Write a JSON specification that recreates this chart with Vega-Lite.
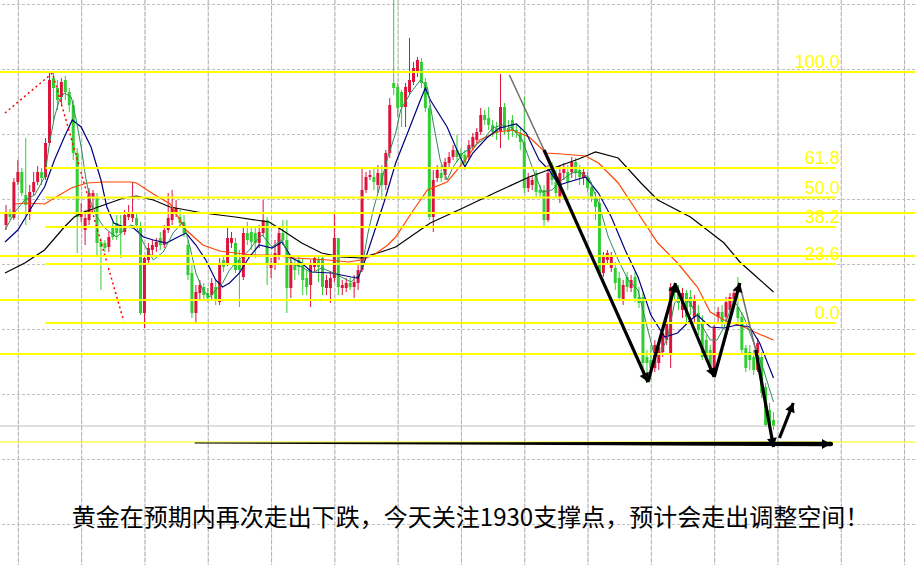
{
"$schema":"https://vega.github.io/schema/vega-lite/v6.json",
"width":915,"height":565,"padding":0,"autosize":{"type":"none"},
"background":"white",
"config":{"view":{"stroke":null},"title":{"font":"Noto Sans CJK SC"}},
"title":{"text":"黄金在预期内再次走出下跌，今天关注1930支撑点，预计会走出调整空间！","orient":"bottom","offset":-59,"dx":13,"anchor":"middle","font":"Noto Sans CJK SC","fontSize":24,"fontWeight":400,"color":"#000000"},
"datasets":{
"gxr":[{"i":3.125,"top":2152,"bot":1869.5},{"i":19.125,"top":2152,"bot":1869.5},{"i":35.125,"top":2152,"bot":1869.5},{"i":51.125,"top":2152,"bot":1869.5},{"i":67.125,"top":2152,"bot":1869.5},{"i":83.125,"top":2152,"bot":1869.5},{"i":99.125,"top":2152,"bot":1869.5},{"i":115.125,"top":2152,"bot":1869.5},{"i":131.125,"top":2152,"bot":1869.5},{"i":147.125,"top":2152,"bot":1869.5},{"i":163.125,"top":2152,"bot":1869.5},{"i":179.125,"top":2152,"bot":1869.5},{"i":195.125,"top":2152,"bot":1869.5},{"i":211.125,"top":2152,"bot":1869.5},{"i":227.125,"top":2152,"bot":1869.5}],
"gy":[{"p":2149.75},{"p":2117.25},{"p":2084.75},{"p":2052.25},{"p":2019.75},{"p":1987.25},{"p":1954.75},{"p":1922.25},{"p":1889.75}],
"candles":[
{"i":0,"o":2039.5,"h":2049.5,"l":2037,"c":2046},
{"i":1,"o":2046,"h":2047.5,"l":2042,"c":2043.5},
{"i":2,"o":2043,"h":2063,"l":2042,"c":2061},
{"i":3,"o":2061,"h":2072,"l":2059.5,"c":2066},
{"i":4,"o":2066,"h":2068,"l":2054,"c":2055.5},
{"i":5,"o":2054.5,"h":2083,"l":2039.5,"c":2049.5},
{"i":6,"o":2046,"h":2059.5,"l":2042,"c":2056},
{"i":7,"o":2056,"h":2066,"l":2054.5,"c":2061},
{"i":8,"o":2061,"h":2069,"l":2059.5,"c":2066},
{"i":9,"o":2066,"h":2068,"l":2059.5,"c":2063},
{"i":10,"o":2063.5,"h":2083,"l":2062,"c":2080.5},
{"i":11,"o":2080.5,"h":2115.5,"l":2079.5,"c":2112},
{"i":12,"o":2113,"h":2115.5,"l":2091,"c":2108},
{"i":13,"o":2108,"h":2112,"l":2097,"c":2102},
{"i":14,"o":2103.5,"h":2113,"l":2099.5,"c":2111},
{"i":15,"o":2112,"h":2114,"l":2102,"c":2106},
{"i":16,"o":2106,"h":2108,"l":2096,"c":2099.5},
{"i":17,"o":2099.5,"h":2102,"l":2072,"c":2075.5},
{"i":18,"o":2075.5,"h":2078,"l":2025.5,"c":2043.5},
{"i":19,"o":2043.5,"h":2050.5,"l":2041,"c":2046},
{"i":20,"o":2037,"h":2047,"l":2029.5,"c":2043},
{"i":21,"o":2042,"h":2058,"l":2039.5,"c":2055.5},
{"i":22,"o":2053.5,"h":2057,"l":2047,"c":2055.5},
{"i":23,"o":2053.5,"h":2055.5,"l":2023.5,"c":2030.5},
{"i":24,"o":2031,"h":2033,"l":2007,"c":2028.5},
{"i":25,"o":2030.5,"h":2032,"l":2026,"c":2028},
{"i":26,"o":2028.5,"h":2036,"l":2026,"c":2033.5},
{"i":27,"o":2038.5,"h":2041,"l":2032,"c":2033.5},
{"i":28,"o":2040.5,"h":2044.5,"l":2032,"c":2035.5},
{"i":29,"o":2039.5,"h":2044.5,"l":2023,"c":2035.5},
{"i":30,"o":2036,"h":2047,"l":2034.5,"c":2044.5},
{"i":31,"o":2043.5,"h":2049.5,"l":2042,"c":2045.5},
{"i":32,"o":2043,"h":2061,"l":2041,"c":2045.5},
{"i":33,"o":2043,"h":2045.5,"l":2038,"c":2039.5},
{"i":34,"o":2038.5,"h":2041,"l":1994.5,"c":1995.5},
{"i":35,"o":1995.5,"h":2024.5,"l":1988,"c":2023},
{"i":36,"o":2022,"h":2030.5,"l":2019.5,"c":2028},
{"i":37,"o":2027,"h":2032,"l":2024.5,"c":2029.5},
{"i":38,"o":2028.5,"h":2033,"l":2026,"c":2031},
{"i":39,"o":2033,"h":2036,"l":2027,"c":2029.5},
{"i":40,"o":2029.5,"h":2039.5,"l":2028,"c":2037},
{"i":41,"o":2037,"h":2055.5,"l":2035.5,"c":2043},
{"i":42,"o":2042,"h":2057,"l":2039.5,"c":2048},
{"i":43,"o":2045.5,"h":2052,"l":2043.5,"c":2048},
{"i":44,"o":2043.5,"h":2047,"l":2038,"c":2040.5},
{"i":45,"o":2041,"h":2044.5,"l":2033.5,"c":2035.5},
{"i":46,"o":2029.5,"h":2032,"l":2012,"c":2014.5},
{"i":47,"o":2015.5,"h":2019.5,"l":1993,"c":1995.5},
{"i":48,"o":1995.5,"h":2009.5,"l":1991,"c":2006},
{"i":49,"o":2005.5,"h":2012,"l":2002,"c":2009.5},
{"i":50,"o":2008.5,"h":2010.5,"l":2002,"c":2004.5},
{"i":51,"o":2005.5,"h":2008,"l":2001,"c":2003},
{"i":52,"o":2004.5,"h":2013,"l":2002,"c":2010.5},
{"i":53,"o":2008.5,"h":2012,"l":1999.5,"c":2002},
{"i":54,"o":2001,"h":2023,"l":1999.5,"c":2020.5},
{"i":55,"o":2022,"h":2024.5,"l":2016,"c":2018.5},
{"i":56,"o":2020.5,"h":2038.5,"l":2019,"c":2033},
{"i":57,"o":2030.5,"h":2036,"l":2028,"c":2033},
{"i":58,"o":2030.5,"h":2033,"l":2015.5,"c":2017},
{"i":59,"o":2022,"h":2027,"l":1998.5,"c":2017},
{"i":60,"o":2013.5,"h":2038,"l":2012,"c":2035.5},
{"i":61,"o":2035.5,"h":2041,"l":2029.5,"c":2032},
{"i":62,"o":2036,"h":2038,"l":2027,"c":2031},
{"i":63,"o":2035.5,"h":2038,"l":2023,"c":2030.5},
{"i":64,"o":2030.5,"h":2039.5,"l":2028,"c":2036},
{"i":65,"o":2035.5,"h":2052,"l":2034,"c":2042},
{"i":66,"o":2042,"h":2043.5,"l":2009.5,"c":2020.5},
{"i":67,"o":2018,"h":2023,"l":2013,"c":2020.5},
{"i":68,"o":2020.5,"h":2032,"l":2017,"c":2025.5},
{"i":69,"o":2024.5,"h":2038,"l":2022,"c":2035.5},
{"i":70,"o":2035.5,"h":2042,"l":2029.5,"c":2032},
{"i":71,"o":2032,"h":2042,"l":1995.5,"c":2008},
{"i":72,"o":2008,"h":2023,"l":2003,"c":2020.5},
{"i":73,"o":2019.5,"h":2023,"l":2012,"c":2017},
{"i":74,"o":2022,"h":2024.5,"l":2014.5,"c":2018.5},
{"i":75,"o":2019.5,"h":2023,"l":2004.5,"c":2012},
{"i":76,"o":2013,"h":2017,"l":2004.5,"c":2008.5},
{"i":77,"o":2009.5,"h":2022,"l":1998.5,"c":2020.5},
{"i":78,"o":2018.5,"h":2024.5,"l":2016,"c":2023},
{"i":79,"o":2022,"h":2024.5,"l":2011,"c":2018.5},
{"i":80,"o":2023,"h":2024.5,"l":2004.5,"c":2008.5},
{"i":81,"o":2008,"h":2014.5,"l":2004.5,"c":2012},
{"i":82,"o":2008,"h":2016,"l":2000.5,"c":2013},
{"i":83,"o":2013,"h":2046,"l":2011,"c":2033},
{"i":84,"o":2033,"h":2033,"l":2004.5,"c":2008.5},
{"i":85,"o":2008,"h":2012,"l":2004.5,"c":2009.5},
{"i":86,"o":2008,"h":2013,"l":2006,"c":2010.5},
{"i":87,"o":2010.5,"h":2013,"l":2007,"c":2008.5},
{"i":88,"o":2008.5,"h":2014.5,"l":2003,"c":2011},
{"i":89,"o":2010.5,"h":2019.5,"l":2007,"c":2017},
{"i":90,"o":2017,"h":2068.5,"l":2016,"c":2057},
{"i":91,"o":2057,"h":2066,"l":2055.5,"c":2063.5},
{"i":92,"o":2063.5,"h":2067,"l":2062,"c":2064.5},
{"i":93,"o":2063.5,"h":2068.5,"l":2057,"c":2061},
{"i":94,"o":2059.5,"h":2069.5,"l":2055.5,"c":2065.5},
{"i":95,"o":2065.5,"h":2069.5,"l":2052,"c":2059.5},
{"i":96,"o":2059.5,"h":2077,"l":2057,"c":2075.5},
{"i":97,"o":2075.5,"h":2103,"l":2073,"c":2099.5},
{"i":98,"o":2110.5,"h":2152,"l":2104.5,"c":2108},
{"i":99,"o":2108.5,"h":2110.5,"l":2093.5,"c":2098},
{"i":100,"o":2106,"h":2107,"l":2088.5,"c":2098.5},
{"i":101,"o":2098.5,"h":2110.5,"l":2088.5,"c":2108.5},
{"i":102,"o":2106,"h":2133,"l":2104.5,"c":2112},
{"i":103,"o":2111,"h":2121,"l":2109.5,"c":2118},
{"i":104,"o":2116,"h":2123.5,"l":2113.5,"c":2122},
{"i":105,"o":2121,"h":2123,"l":2108,"c":2110.5},
{"i":106,"o":2111,"h":2113,"l":2096,"c":2098},
{"i":107,"o":2098,"h":2099.5,"l":2042,"c":2043.5},
{"i":108,"o":2043.5,"h":2067,"l":2036,"c":2062},
{"i":109,"o":2063,"h":2069.5,"l":2061,"c":2067},
{"i":110,"o":2065.5,"h":2069.5,"l":2061,"c":2063},
{"i":111,"o":2064.5,"h":2073,"l":2062,"c":2071},
{"i":112,"o":2070.5,"h":2076,"l":2068,"c":2073.5},
{"i":113,"o":2073.5,"h":2079.5,"l":2072,"c":2077},
{"i":114,"o":2077,"h":2084.5,"l":2071,"c":2073.5},
{"i":115,"o":2075.5,"h":2078,"l":2069.5,"c":2073},
{"i":116,"o":2074.5,"h":2077,"l":2067,"c":2070.5},
{"i":117,"o":2073.5,"h":2082,"l":2072,"c":2079.5},
{"i":118,"o":2078.5,"h":2085.5,"l":2077,"c":2083.5},
{"i":119,"o":2082,"h":2088,"l":2080.5,"c":2086},
{"i":120,"o":2086,"h":2098,"l":2084.5,"c":2094.5},
{"i":121,"o":2094.5,"h":2097,"l":2089.5,"c":2092},
{"i":122,"o":2093,"h":2098.5,"l":2087,"c":2089.5},
{"i":123,"o":2089.5,"h":2092,"l":2083.5,"c":2086},
{"i":124,"o":2088,"h":2091,"l":2082,"c":2085.5},
{"i":125,"o":2086,"h":2115,"l":2078,"c":2098.5},
{"i":126,"o":2098.5,"h":2100.5,"l":2084.5,"c":2087},
{"i":127,"o":2088,"h":2092,"l":2082,"c":2086},
{"i":128,"o":2092,"h":2094.5,"l":2083.5,"c":2087},
{"i":129,"o":2087,"h":2089.5,"l":2083,"c":2085.5},
{"i":130,"o":2085.5,"h":2088,"l":2077,"c":2081},
{"i":131,"o":2081,"h":2103.5,"l":2055.5,"c":2058},
{"i":132,"o":2058,"h":2065.5,"l":2056,"c":2063},
{"i":133,"o":2059.5,"h":2064.5,"l":2057,"c":2062},
{"i":134,"o":2065.5,"h":2067,"l":2053,"c":2056},
{"i":135,"o":2057,"h":2059.5,"l":2053.5,"c":2055.5},
{"i":136,"o":2057,"h":2059.5,"l":2038.5,"c":2042},
{"i":137,"o":2042,"h":2069.5,"l":2041,"c":2065.5},
{"i":138,"o":2069.5,"h":2071,"l":2059.5,"c":2062},
{"i":139,"o":2061,"h":2067,"l":2053.5,"c":2055.5},
{"i":140,"o":2053,"h":2069.5,"l":2050.5,"c":2065.5},
{"i":141,"o":2065.5,"h":2070.5,"l":2062,"c":2068},
{"i":142,"o":2066,"h":2069.5,"l":2057,"c":2061},
{"i":143,"o":2066,"h":2073.5,"l":2063,"c":2071},
{"i":144,"o":2071,"h":2073,"l":2062,"c":2065.5},
{"i":145,"o":2067,"h":2069.5,"l":2059.5,"c":2063.5},
{"i":146,"o":2063,"h":2068.5,"l":2059.5,"c":2066},
{"i":147,"o":2063.5,"h":2066,"l":2056,"c":2058},
{"i":148,"o":2058.5,"h":2061,"l":2051,"c":2053.5},
{"i":149,"o":2053.5,"h":2056,"l":2042,"c":2048.5},
{"i":150,"o":2050.5,"h":2053,"l":2014.5,"c":2015.5},
{"i":151,"o":2015.5,"h":2026,"l":2013.5,"c":2023.5},
{"i":152,"o":2022,"h":2027,"l":2019.5,"c":2025.5},
{"i":153,"o":2018,"h":2026,"l":2016,"c":2024.5},
{"i":154,"o":2018,"h":2021,"l":2007,"c":2010.5},
{"i":155,"o":2013,"h":2016,"l":2002,"c":2003},
{"i":156,"o":2002,"h":2012,"l":1999.5,"c":2009.5},
{"i":157,"o":2013.5,"h":2016,"l":2006,"c":2008.5},
{"i":158,"o":2008,"h":2014.5,"l":2006,"c":2012},
{"i":159,"o":2013.5,"h":2016,"l":2001,"c":2003},
{"i":160,"o":2003.5,"h":2008.5,"l":1998,"c":2000.5},
{"i":161,"o":2003.5,"h":2005.5,"l":1968,"c":1970.5},
{"i":162,"o":1973.5,"h":1977,"l":1960.5,"c":1970.5},
{"i":163,"o":1972,"h":1979.5,"l":1962,"c":1968},
{"i":164,"o":1968,"h":1982,"l":1966,"c":1979.5},
{"i":165,"o":1970.5,"h":1981,"l":1967,"c":1978.5},
{"i":166,"o":1976,"h":1989.5,"l":1973.5,"c":1985.5},
{"i":167,"o":1982,"h":1993,"l":1979.5,"c":1990.5},
{"i":168,"o":1975.5,"h":2010.5,"l":1968,"c":2008.5},
{"i":169,"o":2009.5,"h":2010.5,"l":2002,"c":2005.5},
{"i":170,"o":2007,"h":2009.5,"l":1997,"c":2000.5},
{"i":171,"o":1997,"h":2008,"l":1993,"c":2005.5},
{"i":172,"o":2005.5,"h":2007,"l":1991,"c":1993.5},
{"i":173,"o":2003.5,"h":2007,"l":1994.5,"c":1998.5},
{"i":174,"o":1993.5,"h":2004.5,"l":1991,"c":2002},
{"i":175,"o":1995.5,"h":1999.5,"l":1984.5,"c":1987},
{"i":176,"o":1991,"h":1994.5,"l":1972,"c":1973.5},
{"i":177,"o":1982,"h":1984.5,"l":1971,"c":1973.5},
{"i":178,"o":1977,"h":1979.5,"l":1966,"c":1968.5},
{"i":179,"o":1967,"h":1989.5,"l":1966,"c":1988},
{"i":180,"o":1993.5,"h":1998.5,"l":1991,"c":1996},
{"i":181,"o":1996,"h":1999.5,"l":1988,"c":1990.5},
{"i":182,"o":1993.5,"h":2003.5,"l":1991,"c":2001},
{"i":183,"o":1997,"h":2005.5,"l":1995.5,"c":2003.5},
{"i":184,"o":2001,"h":2007,"l":1998.5,"c":2005.5},
{"i":185,"o":1998.5,"h":2013.5,"l":1991,"c":1993},
{"i":186,"o":1993.5,"h":1996,"l":1974.5,"c":1977},
{"i":187,"o":1978,"h":1979.5,"l":1966,"c":1968},
{"i":188,"o":1976,"h":1979.5,"l":1967,"c":1972},
{"i":189,"o":1973.5,"h":1977,"l":1964.5,"c":1967},
{"i":190,"o":1967,"h":1983,"l":1966,"c":1980.5},
{"i":191,"o":1973.5,"h":1976,"l":1953,"c":1955.5},
{"i":192,"o":1958.5,"h":1960.5,"l":1938.5,"c":1939.5},
{"i":193,"o":1947,"h":1950.5,"l":1937,"c":1938.5},
{"i":194,"o":1942,"h":1946,"l":1937,"c":1939}
],
"ma5":[{"i":-0.25,"p":2037},{"i":2.25,"p":2046},{"i":4.75,"p":2052},{"i":7.25,"p":2054.5},{"i":9.75,"p":2063.5},{"i":11,"p":2080.5},{"i":12.25,"p":2093.5},{"i":13.5,"p":2102},{"i":14.75,"p":2105.5},{"i":16.5,"p":2103.5},{"i":17.75,"p":2092},{"i":19,"p":2078.5},{"i":20.25,"p":2062},{"i":21.5,"p":2050.5},{"i":23,"p":2043.5},{"i":24.75,"p":2038.5},{"i":26.5,"p":2035.5},{"i":28,"p":2033.5},{"i":29.75,"p":2037},{"i":31.5,"p":2039.5},{"i":33,"p":2038.5},{"i":34.75,"p":2030.5},{"i":37.25,"p":2022},{"i":39.75,"p":2026},{"i":42.25,"p":2035.5},{"i":44.75,"p":2041},{"i":46.5,"p":2028.5},{"i":48,"p":2015.5},{"i":49.75,"p":2007},{"i":51.5,"p":2003.5},{"i":53,"p":2007},{"i":54.75,"p":2010.5},{"i":56.5,"p":2017},{"i":58,"p":2020.5},{"i":59.75,"p":2023.5},{"i":61.5,"p":2027},{"i":63,"p":2031},{"i":64.75,"p":2034.5},{"i":67.25,"p":2028.5},{"i":69.75,"p":2032},{"i":72.25,"p":2020.5},{"i":74.75,"p":2018.5},{"i":77.25,"p":2015.5},{"i":79.75,"p":2018},{"i":82.25,"p":2016},{"i":84.75,"p":2013.5},{"i":87.25,"p":2011},{"i":89.75,"p":2016},{"i":91.5,"p":2035.5},{"i":93,"p":2048.5},{"i":94.75,"p":2060.5},{"i":96.5,"p":2073.5},{"i":98.5,"p":2085.5},{"i":99.75,"p":2097},{"i":102.25,"p":2105.5},{"i":104.75,"p":2112},{"i":106.5,"p":2108.5},{"i":108,"p":2090.5},{"i":109.75,"p":2072},{"i":111.5,"p":2062},{"i":113,"p":2068.5},{"i":115.5,"p":2075.5},{"i":118,"p":2078.5},{"i":120.5,"p":2082},{"i":123,"p":2088},{"i":125.5,"p":2089.5},{"i":128,"p":2088},{"i":130.5,"p":2082},{"i":133,"p":2068.5},{"i":135.5,"p":2056},{"i":138,"p":2057},{"i":140.5,"p":2062},{"i":143,"p":2065.5},{"i":144.75,"p":2066},{"i":147.25,"p":2063.5},{"i":149.75,"p":2050.5},{"i":152.25,"p":2033.5},{"i":154.75,"p":2022},{"i":157.25,"p":2012},{"i":159.75,"p":2007},{"i":162.25,"p":1987},{"i":164,"p":1973.5},{"i":165.5,"p":1975.5},{"i":167.25,"p":1983.5},{"i":169,"p":2000.5},{"i":170.5,"p":2003.5},{"i":173,"p":2000.5},{"i":175.5,"p":1990.5},{"i":178,"p":1982},{"i":179.75,"p":1982},{"i":181.5,"p":1988.5},{"i":184,"p":2002},{"i":186.5,"p":1993.5},{"i":189,"p":1980.5},{"i":191.5,"p":1967},{"i":194,"p":1951}],
"ma10":[{"i":-0.25,"p":2031},{"i":3,"p":2037},{"i":6.5,"p":2048.5},{"i":9.75,"p":2058.5},{"i":12.25,"p":2072},{"i":14.75,"p":2083.5},{"i":16.75,"p":2092},{"i":19,"p":2088.5},{"i":21.5,"p":2078.5},{"i":24,"p":2062},{"i":25.5,"p":2048.5},{"i":27.25,"p":2040.5},{"i":29.75,"p":2038.5},{"i":32.25,"p":2038},{"i":34.75,"p":2033.5},{"i":37.25,"p":2032},{"i":40.5,"p":2030.5},{"i":43,"p":2033},{"i":45.5,"p":2035.5},{"i":48,"p":2029.5},{"i":50.5,"p":2022},{"i":53,"p":2012},{"i":54.75,"p":2008.5},{"i":56.5,"p":2010.5},{"i":59,"p":2015.5},{"i":61.5,"p":2023.5},{"i":64,"p":2029.5},{"i":67.25,"p":2028},{"i":69.75,"p":2031},{"i":72.25,"p":2023},{"i":74.75,"p":2020.5},{"i":77.25,"p":2016},{"i":82.25,"p":2015.5},{"i":87.25,"p":2013.5},{"i":89,"p":2013},{"i":90.5,"p":2020.5},{"i":93,"p":2035.5},{"i":95.5,"p":2050.5},{"i":98.5,"p":2070.5},{"i":101.5,"p":2085.5},{"i":104.75,"p":2102},{"i":106,"p":2108},{"i":107.25,"p":2102},{"i":111.5,"p":2088.5},{"i":114,"p":2077},{"i":116,"p":2068.5},{"i":118,"p":2075.5},{"i":121.5,"p":2083},{"i":124.75,"p":2088},{"i":129,"p":2090},{"i":131.5,"p":2085.5},{"i":134.75,"p":2072},{"i":137.25,"p":2067},{"i":139.75,"p":2059.5},{"i":142.25,"p":2061},{"i":146.5,"p":2063.5},{"i":149.75,"p":2055.5},{"i":153,"p":2043.5},{"i":156.5,"p":2027},{"i":159.75,"p":2013.5},{"i":163,"p":1994.5},{"i":166.5,"p":1983.5},{"i":169.75,"p":1985.5},{"i":173,"p":1992},{"i":174.75,"p":1994.5},{"i":178,"p":1988.5},{"i":181.5,"p":1988},{"i":184.75,"p":1989.5},{"i":188,"p":1988.5},{"i":190.5,"p":1980.5},{"i":194,"p":1963}],
"ma30":[{"i":2.25,"p":2050},{"i":4.75,"p":2050.5},{"i":9.75,"p":2050},{"i":12.25,"p":2053},{"i":16.5,"p":2058},{"i":20.5,"p":2060.5},{"i":24.75,"p":2061},{"i":31.5,"p":2061},{"i":33,"p":2060.5},{"i":37.25,"p":2055},{"i":41.5,"p":2050},{"i":45.5,"p":2037},{"i":49.75,"p":2029.5},{"i":54,"p":2026.5},{"i":58,"p":2025.5},{"i":62.25,"p":2024.5},{"i":66.5,"p":2024.5},{"i":73,"p":2023},{"i":81.5,"p":2022},{"i":86.5,"p":2021},{"i":89.75,"p":2022},{"i":93,"p":2024.5},{"i":96.5,"p":2029.5},{"i":98.5,"p":2033.5},{"i":103,"p":2047},{"i":106.5,"p":2057},{"i":111.5,"p":2061},{"i":115.5,"p":2070.5},{"i":119.75,"p":2082},{"i":124,"p":2086},{"i":128,"p":2087},{"i":132.25,"p":2083.5},{"i":136.5,"p":2075.5},{"i":140.5,"p":2075},{"i":146.5,"p":2074},{"i":149.75,"p":2070.5},{"i":154.75,"p":2060.5},{"i":159.75,"p":2045.5},{"i":164.75,"p":2030.5},{"i":169.75,"p":2020.5},{"i":174.75,"p":2008.5},{"i":178,"p":1996},{"i":181.5,"p":1992},{"i":186.5,"p":1988.5},{"i":189.75,"p":1985.5},{"i":194,"p":1982}],
"ma60":[{"i":-0.25,"p":2015.5},{"i":4.75,"p":2020.5},{"i":9.75,"p":2027},{"i":14.75,"p":2038.5},{"i":17.25,"p":2043.5},{"i":19.75,"p":2046},{"i":24.75,"p":2049.5},{"i":29.75,"p":2053},{"i":33,"p":2054},{"i":37.25,"p":2052},{"i":41.5,"p":2048.5},{"i":49.75,"p":2045.5},{"i":58,"p":2043.5},{"i":66.5,"p":2041},{"i":69.75,"p":2037},{"i":74.75,"p":2030.5},{"i":79.75,"p":2025.5},{"i":84.75,"p":2023.5},{"i":89.75,"p":2023},{"i":94.75,"p":2026},{"i":98.5,"p":2028.5},{"i":107.25,"p":2040.5},{"i":115.5,"p":2048},{"i":124,"p":2056},{"i":132.25,"p":2063.5},{"i":140.5,"p":2069.5},{"i":144.75,"p":2072.5},{"i":149,"p":2076},{"i":154.75,"p":2073},{"i":160.5,"p":2060.5},{"i":164.75,"p":2052},{"i":173,"p":2043.5},{"i":177.25,"p":2037},{"i":181.5,"p":2030.5},{"i":185.5,"p":2021},{"i":189.75,"p":2013.5},{"i":194,"p":2006}],
"zigzag":[{"i":-0.25,"p":2095.5},{"i":11.75,"p":2115.5},{"i":29.75,"p":1991.5}],
"hlines":[{"p":2116},{"p":2045.5},{"p":2024},{"p":2002},{"p":1975}],
"hthin":[{"p":1931}],
"price":[{"p":1939}],
"fib":[{"p":2116,"lab":"100.0"},{"p":2068,"lab":"61.8"},{"p":2053.25,"lab":"50.0"},{"p":2038.5,"lab":"38.2"},{"p":2020,"lab":"23.6"},{"p":1990.5,"lab":"0.0"}],
"guides":[{"g":1,"i":127.25,"p":2114.5},{"g":1,"i":136,"p":2077},{"g":2,"i":185.5,"p":2009.5},{"g":2,"i":189.5,"p":1977}],
"arrows":[{"a":1,"pt":"start","i":136,"p":2077},{"a":1,"pt":"tip","i":162.25,"p":1961},{"a":2,"pt":"start","i":162.25,"p":1961},{"a":2,"pt":"tip","i":169.25,"p":2010.5},{"a":3,"pt":"start","i":169.25,"p":2009.5},{"a":3,"pt":"tip","i":179,"p":1963.5},{"a":4,"pt":"start","i":179,"p":1963.5},{"a":4,"pt":"tip","i":185.5,"p":2010.5},{"a":5,"pt":"start","i":189.5,"p":1977},{"a":5,"pt":"tip","i":194,"p":1928.5},{"a":6,"pt":"start","i":195.5,"p":1933},{"a":6,"pt":"tip","i":199,"p":1950.5}],
"harrow":[{"pt":"start","i":47.75,"p":1930.5},{"pt":"tip","i":208.5,"p":1930}]
},
"layer":[
{"data":{"name":"gxr"},"mark":{"type":"tick","orient":"vertical","color":"#dcdcdc","thickness":1,"size":565,"opacity":1},
 "encoding":{"x":{"field":"i","type":"quantitative","scale":{"domain":[-0.25,228.5],"nice":false,"zero":false},"axis":null}}},
{"data":{"name":"gxr"},"mark":{"type":"rule","color":"#b4b4b4","strokeWidth":1,"strokeDash":[4,2]},
 "encoding":{"x":{"field":"i","type":"quantitative","scale":{"domain":[-0.25,228.5],"nice":false,"zero":false},"axis":null},
  "y":{"field":"top","type":"quantitative","scale":{"domain":[1869.5,2152],"nice":false,"zero":false},"axis":null},
  "y2":{"field":"bot"}}},
{"data":{"name":"gy"},"mark":{"type":"rule","color":"#c0c0c0","strokeWidth":1,"strokeDash":[3,2]},
 "encoding":{"y":{"field":"p","type":"quantitative","scale":{"domain":[1869.5,2152],"nice":false,"zero":false},"axis":null}}},
{"data":{"name":"candles"},"mark":{"type":"rule","strokeWidth":1},
 "encoding":{"x":{"field":"i","type":"quantitative","scale":{"domain":[-0.25,228.5],"nice":false,"zero":false},"axis":null},
  "y":{"field":"l","type":"quantitative","scale":{"domain":[1869.5,2152],"nice":false,"zero":false},"axis":null},
  "y2":{"field":"h"},
  "color":{"condition":{"test":"datum.c < datum.o","value":"#32cd32"},"value":"#dc143c"}}},
{"data":{"name":"candles"},"mark":{"type":"bar","width":3},
 "encoding":{"x":{"field":"i","type":"quantitative","scale":{"domain":[-0.25,228.5],"nice":false,"zero":false},"axis":null},
  "y":{"field":"o","type":"quantitative","scale":{"domain":[1869.5,2152],"nice":false,"zero":false},"axis":null},
  "y2":{"field":"c"},
  "color":{"condition":{"test":"datum.c < datum.o","value":"#32cd32"},"value":"#dc143c"}}},
{"data":{"name":"ma60"},"mark":{"type":"line","color":"#000000","strokeWidth":1.2},
 "encoding":{"x":{"field":"i","type":"quantitative","scale":{"domain":[-0.25,228.5],"nice":false,"zero":false},"axis":null},
  "y":{"field":"p","type":"quantitative","scale":{"domain":[1869.5,2152],"nice":false,"zero":false},"axis":null}}},
{"data":{"name":"ma30"},"mark":{"type":"line","color":"#ff4500","strokeWidth":1.2},
 "encoding":{"x":{"field":"i","type":"quantitative","scale":{"domain":[-0.25,228.5],"nice":false,"zero":false},"axis":null},
  "y":{"field":"p","type":"quantitative","scale":{"domain":[1869.5,2152],"nice":false,"zero":false},"axis":null}}},
{"data":{"name":"ma10"},"mark":{"type":"line","color":"#000080","strokeWidth":1.2},
 "encoding":{"x":{"field":"i","type":"quantitative","scale":{"domain":[-0.25,228.5],"nice":false,"zero":false},"axis":null},
  "y":{"field":"p","type":"quantitative","scale":{"domain":[1869.5,2152],"nice":false,"zero":false},"axis":null}}},
{"data":{"name":"ma5"},"mark":{"type":"line","color":"#2e8b57","strokeWidth":1},
 "encoding":{"x":{"field":"i","type":"quantitative","scale":{"domain":[-0.25,228.5],"nice":false,"zero":false},"axis":null},
  "y":{"field":"p","type":"quantitative","scale":{"domain":[1869.5,2152],"nice":false,"zero":false},"axis":null}}},
{"data":{"name":"zigzag"},"mark":{"type":"line","color":"#ff0000","strokeWidth":1.5,"strokeDash":[2,3]},
 "encoding":{"x":{"field":"i","type":"quantitative","scale":{"domain":[-0.25,228.5],"nice":false,"zero":false},"axis":null},
  "y":{"field":"p","type":"quantitative","scale":{"domain":[1869.5,2152],"nice":false,"zero":false},"axis":null}}},
{"data":{"name":"hlines"},"mark":{"type":"rule","color":"#ffff00","strokeWidth":2},
 "encoding":{"y":{"field":"p","type":"quantitative","scale":{"domain":[1869.5,2152],"nice":false,"zero":false},"axis":null}}},
{"data":{"name":"hthin"},"mark":{"type":"rule","color":"#ffff00","strokeWidth":1},
 "encoding":{"y":{"field":"p","type":"quantitative","scale":{"domain":[1869.5,2152],"nice":false,"zero":false},"axis":null}}},
{"data":{"name":"fib"},"mark":{"type":"rule","color":"#ffff00","strokeWidth":2},
 "encoding":{"x":{"datum":10,"type":"quantitative","scale":{"domain":[-0.25,228.5],"nice":false,"zero":false},"axis":null},
  "x2":{"datum":209.75},
  "y":{"field":"p","type":"quantitative","scale":{"domain":[1869.5,2152],"nice":false,"zero":false},"axis":null}}},
{"data":{"name":"price"},"mark":{"type":"rule","color":"#c0c0c0","strokeWidth":1},
 "encoding":{"y":{"field":"p","type":"quantitative","scale":{"domain":[1869.5,2152],"nice":false,"zero":false},"axis":null}}},
{"data":{"name":"fib"},"mark":{"type":"text","align":"right","baseline":"alphabetic","dy":-4,"font":"Liberation Sans","fontSize":18,"color":"#ffff00"},
 "encoding":{"x":{"datum":210.75,"type":"quantitative","scale":{"domain":[-0.25,228.5],"nice":false,"zero":false},"axis":null},
  "y":{"field":"p","type":"quantitative","scale":{"domain":[1869.5,2152],"nice":false,"zero":false},"axis":null},
  "text":{"field":"lab"}}},
{"data":{"name":"guides"},"mark":{"type":"line","color":"#6e6e6e","strokeWidth":1.5},
 "encoding":{"x":{"field":"i","type":"quantitative","scale":{"domain":[-0.25,228.5],"nice":false,"zero":false},"axis":null},
  "y":{"field":"p","type":"quantitative","scale":{"domain":[1869.5,2152],"nice":false,"zero":false},"axis":null},
  "detail":{"field":"g"}}},
{"data":{"name":"arrows"},"mark":{"type":"line","color":"#000000","strokeWidth":3.2},
 "encoding":{"x":{"field":"i","type":"quantitative","scale":{"domain":[-0.25,228.5],"nice":false,"zero":false},"axis":null},
  "y":{"field":"p","type":"quantitative","scale":{"domain":[1869.5,2152],"nice":false,"zero":false},"axis":null},
  "detail":{"field":"a"}}},
{"data":{"name":"harrow"},"mark":{"type":"trail","color":"#000000"},
 "encoding":{"x":{"field":"i","type":"quantitative","scale":{"domain":[-0.25,228.5],"nice":false,"zero":false},"axis":null},
  "y":{"field":"p","type":"quantitative","scale":{"domain":[1869.5,2152],"nice":false,"zero":false},"axis":null},
  "size":{"field":"i","type":"quantitative","scale":{"domain":[47.75,208.5],"range":[1,4.5]},"legend":null}}},
{"data":{"name":"arrows"},"transform":[{"filter":"datum.a == 1 && datum.pt == 'tip'"}],
 "mark":{"type":"point","shape":"triangle","filled":true,"opacity":1,"color":"#000000","size":100,"angle":155.6,"xOffset":-2.5,"yOffset":-5.5},
 "encoding":{"x":{"field":"i","type":"quantitative","scale":{"domain":[-0.25,228.5],"nice":false,"zero":false},"axis":null},
  "y":{"field":"p","type":"quantitative","scale":{"domain":[1869.5,2152],"nice":false,"zero":false},"axis":null}}},
{"data":{"name":"arrows"},"transform":[{"filter":"datum.a == 2 && datum.pt == 'tip'"}],
 "mark":{"type":"point","shape":"triangle","filled":true,"opacity":1,"color":"#000000","size":100,"angle":16,"xOffset":-1.6,"yOffset":5.8},
 "encoding":{"x":{"field":"i","type":"quantitative","scale":{"domain":[-0.25,228.5],"nice":false,"zero":false},"axis":null},
  "y":{"field":"p","type":"quantitative","scale":{"domain":[1869.5,2152],"nice":false,"zero":false},"axis":null}}},
{"data":{"name":"arrows"},"transform":[{"filter":"datum.a == 3 && datum.pt == 'tip'"}],
 "mark":{"type":"point","shape":"triangle","filled":true,"opacity":1,"color":"#000000","size":100,"angle":156.9,"xOffset":-2.3,"yOffset":-5.5},
 "encoding":{"x":{"field":"i","type":"quantitative","scale":{"domain":[-0.25,228.5],"nice":false,"zero":false},"axis":null},
  "y":{"field":"p","type":"quantitative","scale":{"domain":[1869.5,2152],"nice":false,"zero":false},"axis":null}}},
{"data":{"name":"arrows"},"transform":[{"filter":"datum.a == 4 && datum.pt == 'tip'"}],
 "mark":{"type":"point","shape":"triangle","filled":true,"opacity":1,"color":"#000000","size":100,"angle":15.9,"xOffset":-1.6,"yOffset":5.8},
 "encoding":{"x":{"field":"i","type":"quantitative","scale":{"domain":[-0.25,228.5],"nice":false,"zero":false},"axis":null},
  "y":{"field":"p","type":"quantitative","scale":{"domain":[1869.5,2152],"nice":false,"zero":false},"axis":null}}},
{"data":{"name":"arrows"},"transform":[{"filter":"datum.a == 5 && datum.pt == 'tip'"}],
 "mark":{"type":"point","shape":"triangle","filled":true,"opacity":1,"color":"#000000","size":100,"angle":169.6,"xOffset":-1.1,"yOffset":-5.9},
 "encoding":{"x":{"field":"i","type":"quantitative","scale":{"domain":[-0.25,228.5],"nice":false,"zero":false},"axis":null},
  "y":{"field":"p","type":"quantitative","scale":{"domain":[1869.5,2152],"nice":false,"zero":false},"axis":null}}},
{"data":{"name":"arrows"},"transform":[{"filter":"datum.a == 6 && datum.pt == 'tip'"}],
 "mark":{"type":"point","shape":"triangle","filled":true,"opacity":1,"color":"#000000","size":100,"angle":21.8,"xOffset":-2.2,"yOffset":5.6},
 "encoding":{"x":{"field":"i","type":"quantitative","scale":{"domain":[-0.25,228.5],"nice":false,"zero":false},"axis":null},
  "y":{"field":"p","type":"quantitative","scale":{"domain":[1869.5,2152],"nice":false,"zero":false},"axis":null}}},
{"data":{"name":"harrow"},"transform":[{"filter":"datum.pt == 'tip'"}],
 "mark":{"type":"point","shape":"triangle","filled":true,"opacity":1,"color":"#000000","size":100,"angle":90,"xOffset":-6,"yOffset":0},
 "encoding":{"x":{"field":"i","type":"quantitative","scale":{"domain":[-0.25,228.5],"nice":false,"zero":false},"axis":null},
  "y":{"field":"p","type":"quantitative","scale":{"domain":[1869.5,2152],"nice":false,"zero":false},"axis":null}}}
]
}
